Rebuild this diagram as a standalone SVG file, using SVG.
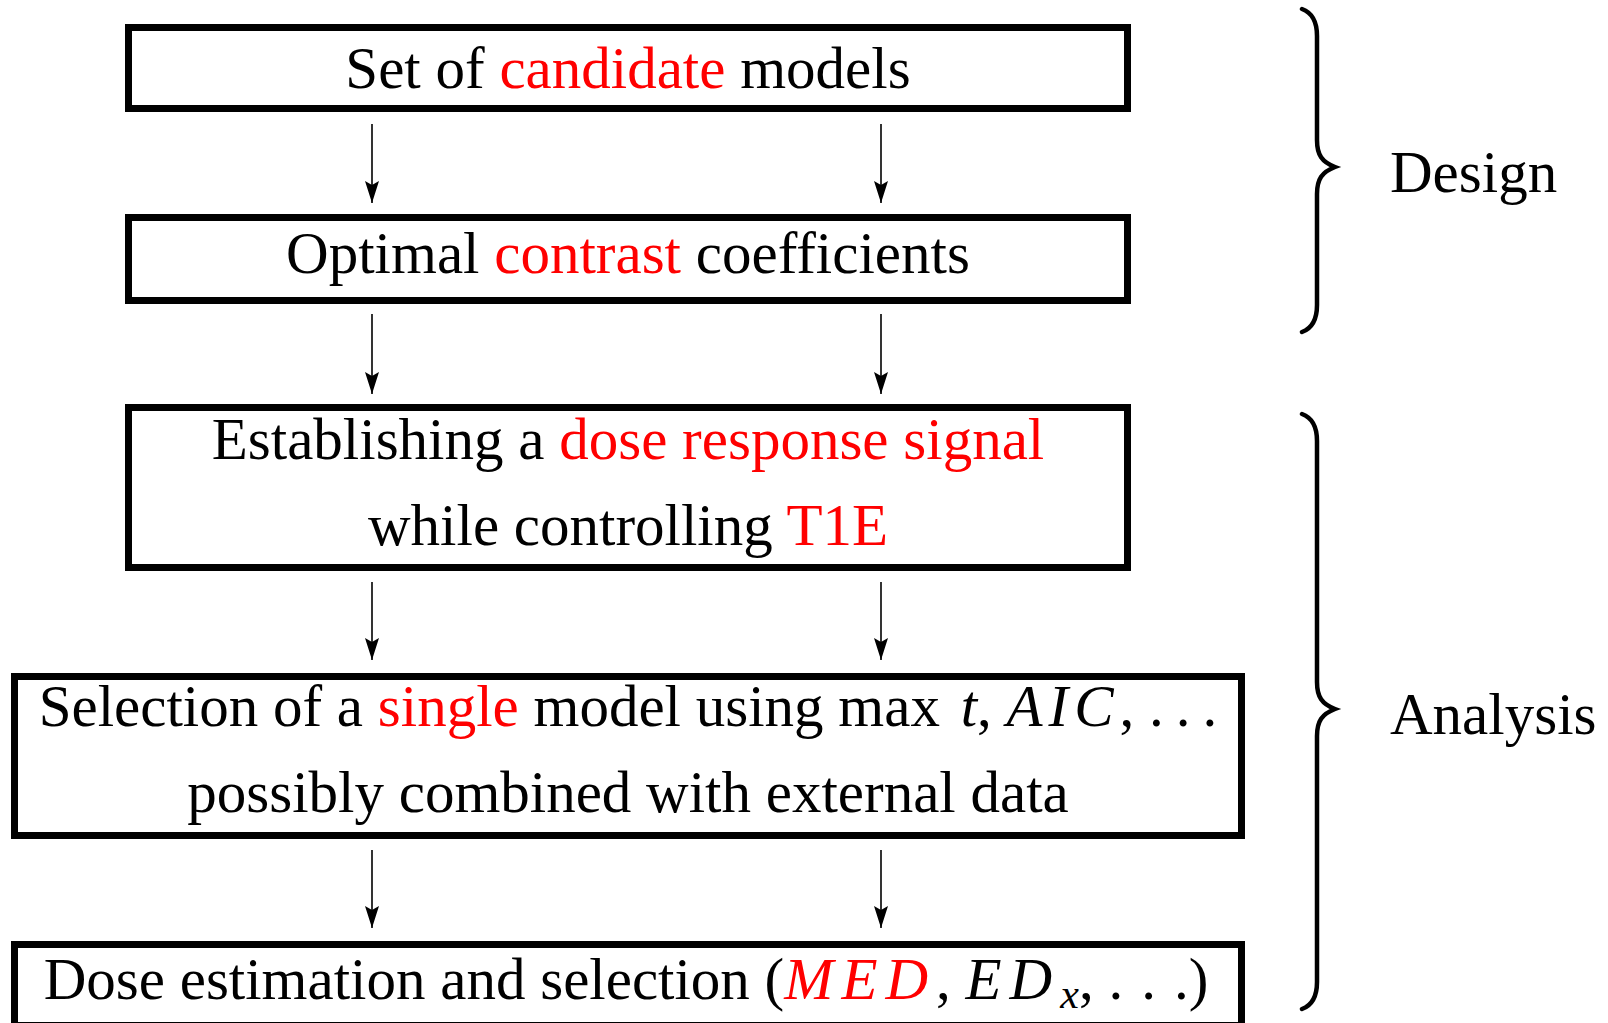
<svg xmlns="http://www.w3.org/2000/svg" width="1608" height="1023" viewBox="0 0 1608 1023">
<style>
.box{fill:#fff;stroke:#000;stroke-width:7}
.t{font-family:"Liberation Serif","Times New Roman",serif;font-size:59px;fill:#000}
.r{fill:#ff0000}
.i{font-style:italic}
.con{stroke:#000;stroke-width:1.6;fill:none}
.brace{stroke:#000;stroke-width:4.5;fill:none;stroke-linecap:round}
</style>
<defs>
<marker id="ah" markerUnits="userSpaceOnUse" markerWidth="24" markerHeight="16" refX="22" refY="7" orient="auto">
<path d="M0,0 L22,7 L0,14 L4,7 z" fill="#000"/>
</marker>
</defs>
<rect width="1608" height="1023" fill="#fff"/>
<g id="connectors">
<line class="con" x1="372" y1="124" x2="372" y2="203" marker-end="url(#ah)"/>
<line class="con" x1="881" y1="124" x2="881" y2="203" marker-end="url(#ah)"/>
<line class="con" x1="372" y1="314" x2="372" y2="394" marker-end="url(#ah)"/>
<line class="con" x1="881" y1="314" x2="881" y2="394" marker-end="url(#ah)"/>
<line class="con" x1="372" y1="582" x2="372" y2="660" marker-end="url(#ah)"/>
<line class="con" x1="881" y1="582" x2="881" y2="660" marker-end="url(#ah)"/>
<line class="con" x1="372" y1="850" x2="372" y2="928" marker-end="url(#ah)"/>
<line class="con" x1="881" y1="850" x2="881" y2="928" marker-end="url(#ah)"/>
</g>
<g id="node1">
<rect class="box" x="128.5" y="27.5" width="999" height="81"/>
<text class="t" x="628" y="88" text-anchor="middle">Set of <tspan class="r">candidate</tspan> models</text>
</g>
<g id="node2">
<rect class="box" x="128.5" y="217.5" width="999" height="83"/>
<text class="t" x="628" y="273" text-anchor="middle">Optimal <tspan class="r">contrast</tspan> coefficients</text>
</g>
<g id="node3">
<rect class="box" x="128.5" y="407.5" width="999" height="160"/>
<text class="t" x="628" y="459" text-anchor="middle">Establishing a <tspan class="r">dose response signal</tspan></text>
<text class="t" x="628" y="545" text-anchor="middle">while controlling <tspan class="r">T1E</tspan></text>
</g>
<g id="node4">
<rect class="box" x="14.5" y="676.5" width="1227" height="159"/>
<text class="t" x="634" y="726" text-anchor="middle">Selection of a <tspan class="r">single</tspan> model using max<tspan dx="6"> </tspan><tspan class="i">t</tspan>, <tspan class="i" letter-spacing="6">AIC</tspan>, <tspan letter-spacing="12">...</tspan></text>
<text class="t" x="628" y="812" text-anchor="middle">possibly combined with external data</text>
</g>
<g id="node5">
<rect class="box" x="14.5" y="944.5" width="1227" height="81"/>
<text class="t" x="626" y="999" text-anchor="middle">Dose estimation and selection (<tspan class="i r" letter-spacing="8">MED</tspan>, <tspan class="i" letter-spacing="8">ED</tspan><tspan class="i" font-size="42" dy="9">x</tspan><tspan dy="-9">, </tspan><tspan letter-spacing="18">..</tspan>.)</text>
</g>
<g id="brace-design">
<path class="brace" d="M1302,9 C1313,13 1317,22 1317,36 L1317,140 C1317,155 1322,162 1335,167 C1322,172 1317,179 1317,194 L1317,305 C1317,319 1313,328 1302,332"/>
<text class="t" x="1390" y="192">Design</text>
</g>
<g id="brace-analysis">
<path class="brace" d="M1302,414 C1313,418 1317,427 1317,441 L1317,682 C1317,697 1322,704 1335,709 C1322,714 1317,721 1317,736 L1317,982 C1317,996 1313,1005 1302,1009"/>
<text class="t" x="1390" y="734">Analysis</text>
</g>
</svg>
